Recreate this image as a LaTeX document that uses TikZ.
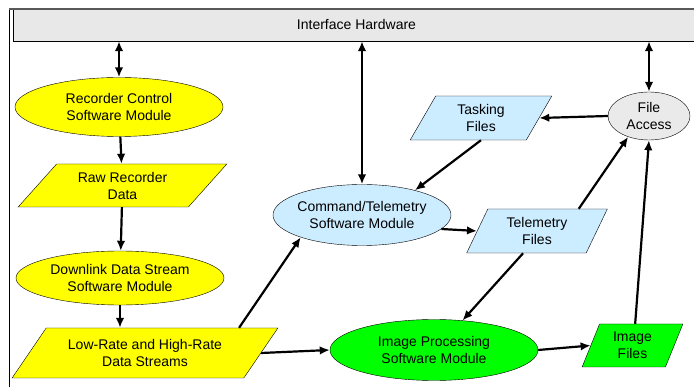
\documentclass[tikz,border=0pt]{standalone}
\usepackage{fontspec}
\setmainfont{Liberation Sans}
\usetikzlibrary{arrows.meta,shapes.geometric}

\definecolor{hwgray}{HTML}{E8E8E8}
\definecolor{accgray}{HTML}{EAEAEA}
\definecolor{modyellow}{HTML}{FFFF00}
\definecolor{modgreen}{HTML}{00FF00}
\definecolor{modblue}{HTML}{CCECFF}

\begin{document}
\begin{tikzpicture}[x=1pt,y=-1pt,
		font=\fontsize{14}{17}\selectfont,
		>={Latex[length=10pt,width=8.5pt]},
		module/.style={ellipse,draw,thin,inner sep=0pt,align=center},
		datafile/.style={trapezium,draw,thin,trapezium stretches=true,inner xsep=2pt,inner ysep=0pt,align=center},
		link/.style={line width=2.2pt,->}]
		\useasboundingbox (0,0) rectangle (694,387);
		\node[draw,fill=hwgray,minimum width=687pt,minimum height=32pt,inner sep=0pt] (hw) at (356.5,25) {Interface Hardware};
		\draw (9,8) -- (9,387);
		\draw[black!65,line width=2pt] (9,9) -- (694,9);
		\node[module,fill=modyellow,minimum width=208pt,minimum height=59pt] (recctl) at (119,107) {Recorder Control\\Software Module};
		\node[datafile,fill=modyellow,trapezium left angle=45,trapezium right angle=135,minimum width=209pt,minimum height=43pt] (rawdata) at (122.5,185.5) {Raw Recorder\\Data};
		\node[module,fill=modyellow,minimum width=208pt,minimum height=54pt] (downlink) at (120,278) {Downlink Data Stream\\Software Module};
		\node[datafile,fill=modyellow,trapezium left angle=45,trapezium right angle=135,minimum width=266pt,minimum height=50pt] (streams) at (145,353) {Low-Rate and High-Rate\\Data Streams};
		\node[module,fill=modblue,inner xsep=-8pt,minimum width=178pt,minimum height=61pt] (cmdtlm) at (362,215) {Command/Telemetry\\Software Module};
		\node[datafile,fill=modblue,trapezium left angle=62,trapezium right angle=118,minimum width=142pt,minimum height=44pt] (tasking) at (481,118) {Tasking\\Files};
		\node[datafile,fill=modblue,trapezium left angle=63,trapezium right angle=117,minimum width=141pt,minimum height=44pt] (tlmfiles) at (537,231) {Telemetry\\Files};
		\node[module,fill=accgray,minimum width=82pt,minimum height=48pt] (fileacc) at (649,116) {File\\Access};
		\node[module,fill=modgreen,minimum width=208pt,minimum height=61pt] (imgproc) at (434,350) {Image Processing\\Software Module};
		\node[datafile,fill=modgreen,trapezium left angle=67,trapezium right angle=113,minimum width=101pt,minimum height=43pt] (imgfiles) at (632.5,345.5) {Image\\Files};
		\draw[link,<->] (recctl.north |- hw.south) -- (recctl.north);
		\draw[link,<->] (cmdtlm.north |- hw.south) -- (cmdtlm.north);
		\draw[link,<->] (fileacc.north |- hw.south) -- (fileacc.north);
		\draw[link] (recctl) -- (rawdata);
		\draw[link] (rawdata) -- (downlink);
		\draw[link] (downlink) -- (streams.north -| downlink.south);
		\draw[link] (streams.15) -- (cmdtlm.200);
		\draw[link] (streams.east) -- (imgproc.west);
		\draw[link] (fileacc.west) -- (tasking.east);
		\draw[link] (tasking.south) -- (cmdtlm.25);
		\draw[link] (cmdtlm.-10) -- (tlmfiles.west);
		\draw[link] (tlmfiles.28) -- (fileacc.225);
		\draw[link] (tlmfiles.238) -- (imgproc.46);
		\draw[link] (imgproc.east) -- (imgfiles.west);
		\draw[link] (imgfiles.83) -- (fileacc.south);
	\end{tikzpicture}
\end{document}
